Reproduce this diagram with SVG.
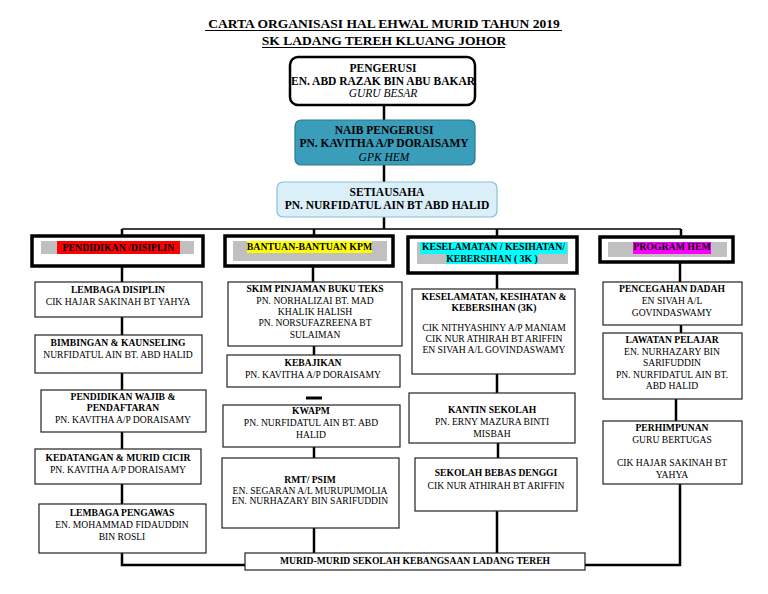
<svg xmlns="http://www.w3.org/2000/svg" width="768" height="594" viewBox="0 0 768 594">
<style>
text{font-family:"Liberation Serif","Times New Roman",serif;fill:#000;text-anchor:middle}
.t{font-size:13.5px;font-weight:bold}
.b{font-size:11.5px;font-weight:bold}
.bi{font-size:11.5px;font-style:italic}
.h{font-size:9.8px;font-weight:bold}
.hb{font-size:9.6px;font-weight:bold}
.r{font-size:9.6px}
.box{fill:#fff;stroke:#222;stroke-width:1.2}
.hdr{fill:#fff;stroke:#000;stroke-width:3.5}
.gray{fill:#c0c0c0}
.c{stroke:#000;stroke-width:2.5;fill:none}
.cl{stroke:#000;stroke-width:1.7;fill:none}
</style>
<rect width="768" height="594" fill="#fff"/>
<g id="title">
<text class="t" x="384" y="28">CARTA ORGANISASI HAL EHWAL MURID TAHUN 2019</text>
<text class="t" x="384" y="45">SK LADANG TEREH KLUANG JOHOR</text>
<line x1="205" y1="30.5" x2="562" y2="30.5" stroke="#000" stroke-width="1"/>
<line x1="262" y1="47.5" x2="505" y2="47.5" stroke="#000" stroke-width="1"/>
</g>
<g id="connectors">
<line class="c" x1="384" y1="105" x2="384" y2="120"/>
<line class="c" x1="384" y1="165" x2="384" y2="182"/>
<line class="c" x1="384" y1="217" x2="384" y2="229"/>
<line class="cl" x1="122" y1="229" x2="681" y2="229"/>
<line class="c" x1="122" y1="229" x2="122" y2="236"/>
<line class="c" x1="314" y1="229" x2="314" y2="236"/>
<line class="c" x1="497" y1="229" x2="497" y2="237"/>
<line class="c" x1="681" y1="229" x2="681" y2="237"/>
<line class="c" x1="122" y1="266" x2="122" y2="282"/>
<line class="c" x1="122" y1="317" x2="122" y2="335"/>
<line class="c" x1="122" y1="373" x2="122" y2="390"/>
<line class="c" x1="122" y1="432" x2="122" y2="449"/>
<line class="c" x1="122" y1="484" x2="122" y2="504"/>
<polyline class="c" points="122,553 122,565 245,565"/>
<line class="c" x1="313" y1="266" x2="313" y2="282"/>
<line class="c" x1="314" y1="346" x2="314" y2="355"/>
<line stroke="#000" stroke-width="3" x1="306" y1="398" x2="322" y2="398"/>
<line class="c" x1="314" y1="447" x2="314" y2="458"/>
<line class="c" x1="314" y1="528" x2="314" y2="553"/>
<line class="c" x1="497" y1="273" x2="497" y2="289"/>
<line class="c" x1="497" y1="374" x2="497" y2="393"/>
<line class="c" x1="498" y1="443" x2="498" y2="458"/>
<line class="c" x1="497" y1="511" x2="497" y2="553"/>
<line class="c" x1="680" y1="262" x2="680" y2="282"/>
<line class="c" x1="681" y1="325" x2="681" y2="333"/>
<line class="c" x1="676" y1="399" x2="676" y2="421"/>
<polyline class="c" points="680,484 680,565 585,565"/>
</g>
<g id="pengerusi">
<rect x="290" y="57" width="185" height="48" rx="8" fill="#fff" stroke="#000" stroke-width="2.5"/>
<text class="b" x="383" y="72">PENGERUSI</text>
<text class="b" x="383" y="85">EN. ABD RAZAK BIN ABU BAKAR</text>
<text class="bi" x="383" y="97">GURU BESAR</text>
</g>
<g id="naib">
<rect x="295" y="120" width="180" height="45" rx="6" fill="#3a9db9" stroke="#2a7a90" stroke-width="1.2"/>
<text class="b" x="384" y="134">NAIB PENGERUSI</text>
<text class="b" x="384" y="147">PN. KAVITHA A/P DORAISAMY</text>
<text class="bi" x="384" y="161">GPK HEM</text>
</g>
<g id="setiausaha">
<rect x="277" y="182" width="220" height="35" rx="6" fill="#dbeff8" stroke="#8bbfd6" stroke-width="1.2"/>
<text class="b" x="387" y="196">SETIAUSAHA</text>
<text class="b" x="387" y="209">PN. NURFIDATUL AIN BT ABD HALID</text>
</g>
<g id="hdr-pendidikan">
<rect class="hdr" x="32" y="236" width="171" height="30"/>
<rect class="gray" x="41" y="241" width="153" height="13"/>
<rect fill="#ff0000" x="57" y="241" width="123" height="13"/>
<text class="h" x="118.5" y="251">PENDIDIKAN /DISIPLIN</text>
</g>
<g id="hdr-bantuan">
<rect class="hdr" x="225" y="236" width="168" height="30"/>
<rect class="gray" x="233" y="241" width="154" height="20"/>
<rect fill="#ffff00" x="247" y="241" width="125" height="12"/>
<text class="h" x="309.5" y="250">BANTUAN-BANTUAN KPM</text>
</g>
<g id="hdr-keselamatan">
<rect class="hdr" x="408" y="237" width="169" height="36"/>
<rect class="gray" x="417" y="242" width="151" height="22"/>
<rect fill="#00ffff" x="420" y="242" width="147" height="12"/>
<rect fill="#00ffff" x="446" y="254" width="92" height="10"/>
<text class="h" x="493.5" y="250">KESELAMATAN / KESIHATAN/</text>
<text class="h" x="492" y="262">KEBERSIHAN ( 3K )</text>
</g>
<g id="hdr-program">
<rect class="hdr" x="600" y="237" width="133" height="25"/>
<rect class="gray" x="608" y="242" width="119" height="15"/>
<rect fill="#ff00ff" x="633" y="242" width="78" height="12"/>
<text class="h" x="672" y="250">PROGRAM HEM</text>
</g>
<g id="lembaga-disiplin">
<rect class="box" x="35" y="282" width="167" height="35"/>
<text class="hb" x="118" y="293">LEMBAGA DISIPLIN</text>
<text class="r" x="118" y="305">CIK HAJAR SAKINAH BT YAHYA</text>
</g>
<g id="bimbingan">
<rect class="box" x="35" y="335" width="167" height="38"/>
<text class="hb" x="118" y="346">BIMBINGAN &amp; KAUNSELING</text>
<text class="r" x="118" y="358">NURFIDATUL AIN BT. ABD HALID</text>
</g>
<g id="pendidikan-wajib">
<rect class="box" x="41" y="390" width="165" height="42"/>
<text class="hb" x="123" y="400">PENDIDIKAN WAJIB  &amp;</text>
<text class="hb" x="123" y="411">PENDAFTARAN</text>
<text class="r" x="123" y="423">PN. KAVITHA A/P DORAISAMY</text>
</g>
<g id="kedatangan">
<rect class="box" x="35" y="449" width="166" height="35"/>
<text class="hb" x="118" y="461">KEDATANGAN &amp; MURID CICIR</text>
<text class="r" x="118" y="473">PN. KAVITHA A/P DORAISAMY</text>
</g>
<g id="lembaga-pengawas">
<rect class="box" x="39" y="504" width="167" height="49"/>
<text class="hb" x="122" y="516">LEMBAGA PENGAWAS</text>
<text class="r" x="122" y="528">EN. MOHAMMAD FIDAUDDIN</text>
<text class="r" x="122" y="540">BIN ROSLI</text>
</g>
<g id="skim">
<rect class="box" x="228" y="282" width="174" height="64"/>
<text class="hb" x="315" y="292">SKIM PINJAMAN BUKU TEKS</text>
<text class="r" x="315" y="304">PN. NORHALIZAI BT. MAD</text>
<text class="r" x="315" y="315">KHALIK HALISH</text>
<text class="r" x="315" y="326">PN. NORSUFAZREENA BT</text>
<text class="r" x="315" y="338">SULAIMAN</text>
</g>
<g id="kebajikan">
<rect class="box" x="227" y="355" width="173" height="32"/>
<text class="hb" x="313" y="366">KEBAJIKAN</text>
<text class="r" x="313" y="378">PN. KAVITHA A/P DORAISAMY</text>
</g>
<g id="kwapm">
<rect class="box" x="223" y="405" width="177" height="42"/>
<text class="hb" x="311" y="414">KWAPM</text>
<text class="r" x="311" y="426">PN. NURFIDATUL AIN BT. ABD</text>
<text class="r" x="311" y="438">HALID</text>
</g>
<g id="rmt">
<rect class="box" x="222" y="458" width="177" height="70"/>
<text class="hb" x="310" y="483">RMT/ PSIM</text>
<text class="r" x="310" y="494">EN. SEGARAN A/L MURUPUMOLIA</text>
<text class="r" x="310" y="504">EN. NURHAZARY BIN SARIFUDDIN</text>
</g>
<g id="keselamatan">
<rect class="box" x="412" y="289" width="163" height="85"/>
<text class="hb" x="494" y="300">KESELAMATAN, KESIHATAN &amp;</text>
<text class="hb" x="494" y="311">KEBERSIHAN (3K)</text>
<text class="r" x="494" y="331">CIK NITHYASHINY A/P MANIAM</text>
<text class="r" x="494" y="342">CIK NUR ATHIRAH BT ARIFFIN</text>
<text class="r" x="494" y="353">EN SIVAH A/L GOVINDASWAMY</text>
</g>
<g id="kantin">
<rect class="box" x="409" y="393" width="166" height="50"/>
<text class="hb" x="492" y="413">KANTIN SEKOLAH</text>
<text class="r" x="492" y="425">PN. ERNY MAZURA BINTI</text>
<text class="r" x="492" y="437">MISBAH</text>
</g>
<g id="denggi">
<rect class="box" x="415" y="458" width="162" height="53"/>
<text class="hb" x="496" y="476">SEKOLAH BEBAS DENGGI</text>
<text class="r" x="496" y="489">CIK NUR ATHIRAH BT ARIFFIN</text>
</g>
<g id="pencegahan">
<rect class="box" x="603" y="282" width="139" height="43"/>
<text class="hb" x="672" y="292">PENCEGAHAN DADAH</text>
<text class="r" x="672" y="304">EN SIVAH A/L</text>
<text class="r" x="672" y="316">GOVINDASWAMY</text>
</g>
<g id="lawatan">
<rect class="box" x="603" y="333" width="139" height="66"/>
<text class="hb" x="672" y="343">LAWATAN PELAJAR</text>
<text class="r" x="672" y="355">EN. NURHAZARY BIN</text>
<text class="r" x="672" y="366">SARIFUDDIN</text>
<text class="r" x="672" y="378">PN. NURFIDATUL AIN BT.</text>
<text class="r" x="672" y="389">ABD HALID</text>
</g>
<g id="perhimpunan">
<rect class="box" x="603" y="421" width="139" height="63"/>
<text class="hb" x="672" y="431">PERHIMPUNAN</text>
<text class="r" x="672" y="443">GURU BERTUGAS</text>
<text class="r" x="672" y="466">CIK HAJAR SAKINAH BT</text>
<text class="r" x="672" y="478">YAHYA</text>
</g>
<g id="murid">
<rect class="box" x="245" y="553" width="340" height="17"/>
<text class="hb" x="415" y="564">MURID-MURID SEKOLAH KEBANGSAAN LADANG TEREH</text>
</g>
</svg>
